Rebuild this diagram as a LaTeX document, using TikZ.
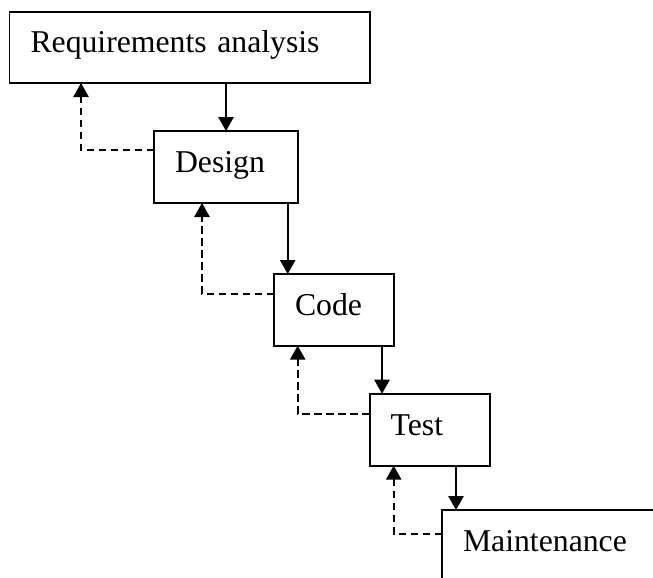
\documentclass[tikz,border=0pt]{standalone}
\usepackage{fontspec}
\setmainfont{Liberation Serif}
\usetikzlibrary{arrows.meta}
\begin{document}
\begin{tikzpicture}[x=0.75pt,y=-0.75pt,
  box/.style={draw, line width=1.3pt, rectangle, anchor=north west, align=left,
    inner xsep=15.75pt, inner ysep=0pt, outer sep=0pt,
    font=\fontsize{23.8}{28}\selectfont, text height=16pt, text depth=8pt},
  arr/.style={line width=1.3pt, -{Triangle[width=11.5pt,length=10.5pt]}},
  darr/.style={arr, dash pattern=on 5.5pt off 3.5pt}]
\useasboundingbox (0,0) rectangle (653,578);
\clip (0,0) rectangle (653,578);
\node[box, text width=238.9pt, minimum height=53.5pt] (req) at (9.5,11.7) {Requirements analysis};
\node[box, text width=76.5pt, minimum height=54pt] (des) at (154,131) {Design};
\node[box, text width=58.5pt, minimum height=53.8pt] (code) at (274,274) {Code};
\node[box, text width=58.7pt, minimum height=54pt] (test) at (369.7,393.7) {Test};
\node[box, text width=163.5pt, minimum height=54pt] (maint) at (442,510) {Maintenance};
% forward arrows
\coordinate (a2) at (287.7,0);
\coordinate (a3) at (382,0);
\coordinate (a4) at (456,0);
\draw[arr] (req.south -| des.north) -- (des.north);
\draw[arr] (a2 |- des.south) -- (a2 |- code.north);
\draw[arr] (a3 |- code.south) -- (a3 |- test.north);
\draw[arr] (a4 |- test.south) -- (a4 |- maint.north);
% feedback arrows
\coordinate (k1) at (81,150);
\coordinate (k2) at (202,293.7);
\coordinate (k3) at (297.7,413.7);
\coordinate (k4) at (393.7,533.7);
\draw[darr] (k1 -| des.west) -| (k1 |- req.south);
\draw[darr] (k2 -| code.west) -| (k2 |- des.south);
\draw[darr] (k3 -| test.west) -| (k3 |- code.south);
\draw[darr] (k4 -| maint.west) -| (k4 |- test.south);
\end{tikzpicture}
\end{document}
